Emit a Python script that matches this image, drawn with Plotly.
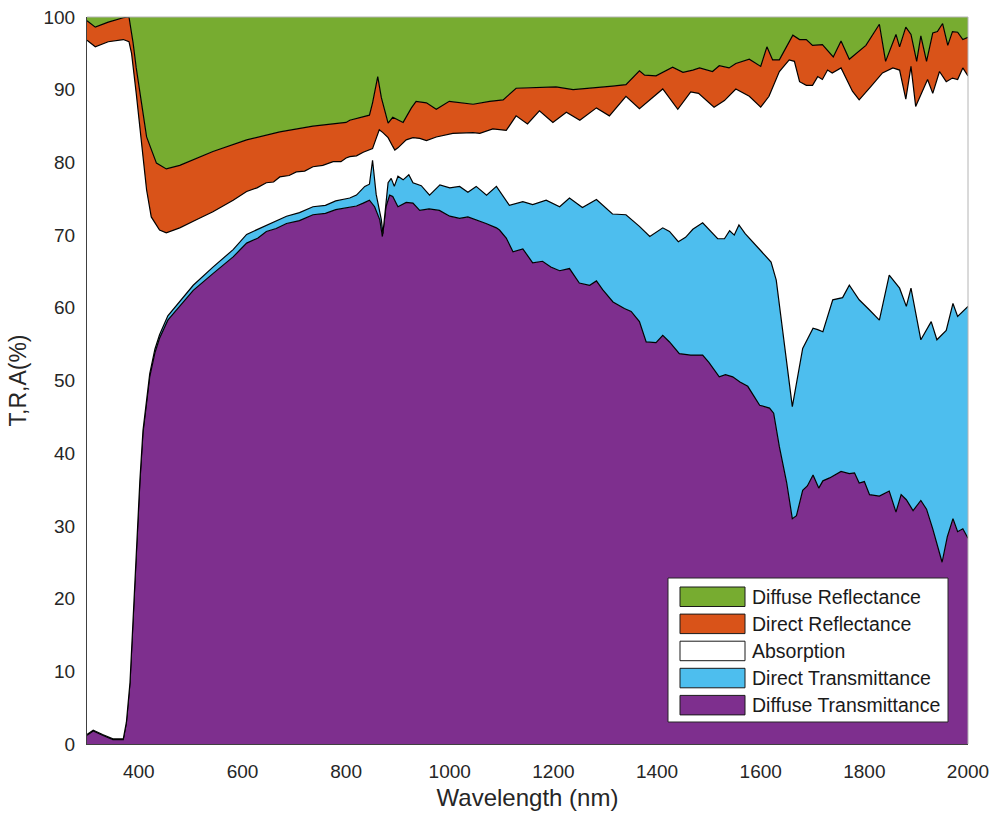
import plotly.graph_objects as go

# Upper edge of each stacked band (cumulative %, bottom to top), sampled in nm.

# Diffuse transmittance (top of purple band)
wl_t_diffuse = [300, 312, 330, 350, 370, 376, 383, 389, 395, 402, 408, 415, 421, 431, 440,
                456, 479, 505, 543, 582, 608, 630, 646, 665, 685, 710, 736, 760, 780, 800,
                820, 833, 845, 855, 865, 870, 877, 884, 890, 900, 916, 929, 942, 960, 980,
                1000, 1019, 1035, 1051, 1070, 1090, 1096, 1109, 1122, 1141, 1160, 1179, 1195,
                1212, 1231, 1250, 1270, 1283, 1295, 1315, 1337, 1350, 1366, 1379, 1398, 1411,
                1424, 1443, 1465, 1488, 1500, 1520, 1532, 1546, 1560, 1575, 1598, 1617, 1625,
                1636, 1650, 1661, 1669, 1681, 1690, 1701, 1712, 1720, 1733, 1755, 1771, 1781,
                1790, 1800, 1810, 1829, 1848, 1861, 1871, 1881, 1894, 1909, 1920, 1932, 1950,
                1960, 1971, 1980, 1990, 2000]
t_diffuse = [1.2, 1.8, 1.2, 0.6, 0.6, 2.9, 8.4, 17.5, 26.7, 35.9, 42.8, 47.3, 50.5, 53.8, 55.8,
             58.3, 60.2, 62.4, 64.7, 67.0, 68.9, 69.6, 70.5, 70.9, 71.6, 72.0, 72.8, 73.0, 73.5, 73.7,
             74.0, 74.4, 74.8, 73.9, 72.1, 69.8, 73.9, 75.5, 75.3, 73.9, 74.5, 74.4, 73.4, 73.6, 73.4,
             72.6, 72.3, 72.5, 72.1, 71.6, 71.0, 70.7, 69.6, 67.7, 68.1, 66.2, 66.4, 65.6,
             65.1, 65.4, 63.4, 63.1, 63.7, 62.5, 60.8, 59.9, 59.5, 58.1, 55.3, 55.2, 56.2,
             55.3, 53.7, 53.5, 53.5, 52.5, 50.5, 50.8, 50.5, 49.8, 49.2, 46.6, 46.2, 45.5,
             40.9, 36.0, 31.0, 31.4, 34.9, 35.5, 37.0, 35.2, 36.2, 36.6, 37.5, 37.2, 37.3,
             35.9, 36.1, 34.3, 34.1, 34.8, 31.9, 34.3, 33.6, 32.1, 33.5, 32.3, 29.6, 25.0,
             28.5, 31.0, 29.2, 29.6, 28.3]

# Diffuse + direct transmittance (top of blue band)
wl_t_total = [300, 312, 330, 350, 370, 376, 383, 389, 395, 402, 408, 415, 421, 431, 440,
              456, 479, 505, 543, 582, 608, 630, 646, 665, 685, 710, 736, 760, 780, 800,
              807, 820, 836, 845, 851, 858, 868, 871, 881, 887, 893, 900, 910, 921, 929,
              945, 961, 981, 1000, 1019, 1035, 1051, 1071, 1090, 1115, 1141, 1160, 1186,
              1212, 1231, 1256, 1283, 1314, 1340, 1366, 1386, 1411, 1424, 1441, 1455, 1469,
              1488, 1517, 1530, 1540, 1549, 1558, 1570, 1598, 1620, 1630, 1646, 1661, 1681,
              1701, 1710, 1720, 1739, 1758, 1771, 1790, 1810, 1829, 1848, 1868, 1881, 1890,
              1909, 1929, 1940, 1958, 1971, 1980, 2000]
t_total = [1.3, 1.9, 1.3, 0.7, 0.7, 3.0, 8.5, 17.7, 27.0, 36.2, 43.1, 47.7, 50.9, 54.3, 56.3,
           58.9, 60.9, 63.1, 65.6, 68.0, 70.1, 70.8, 71.4, 72.0, 72.6, 73.1, 73.9, 74.1, 74.7, 75.0,
           75.1, 75.5, 76.7, 77.0, 80.3, 75.6, 72.1, 70.2, 77.2, 77.8, 76.7, 78.1, 77.6, 78.3, 77.2,
           76.8, 75.5, 76.9, 76.5, 76.7, 75.9, 76.7, 75.5, 76.7, 74.1, 74.6, 74.2, 74.8,
           73.9, 75.1, 73.8, 74.9, 72.9, 72.8, 71.2, 69.8, 71.0, 70.5, 69.1, 69.7, 70.8,
           71.7, 69.5, 69.5, 70.6, 70.0, 71.4, 70.2, 68.0, 66.3, 63.8, 55.1, 46.4, 54.4,
           57.2, 57.0, 56.7, 61.1, 61.4, 63.1, 61.1, 59.7, 58.3, 64.5, 62.7, 60.2, 62.7,
           55.6, 58.1, 55.6, 56.9, 60.6, 58.8, 60.2]

# Transmittance + absorption (bottom of orange band)
wl_absorb = [300, 316, 341, 370, 381, 386, 395, 405, 415, 424, 440, 453, 479, 511, 543,
             582, 608, 628, 646, 660, 672, 690, 704, 720, 736, 755, 775, 790, 800, 807,
             820, 833, 845, 851, 858, 864, 871, 881, 890, 894, 900, 916, 929, 942, 955,
             974, 1006, 1045, 1058, 1083, 1109, 1128, 1150, 1173, 1199, 1225, 1251, 1283,
             1308, 1340, 1366, 1411, 1440, 1465, 1480, 1510, 1530, 1552, 1578, 1600, 1616,
             1636, 1655, 1665, 1675, 1688, 1700, 1710, 1719, 1729, 1738, 1755, 1777, 1790,
             1812, 1835, 1855, 1868, 1880, 1890, 1899, 1912, 1922, 1932, 1945, 1958, 1970,
             1980, 1990, 2000]
r_lower = [96.8, 95.9, 96.6, 96.9, 96.6, 95.0, 89.5, 82.7, 76.2, 72.5, 70.7, 70.3, 71.0, 72.1, 73.2,
           74.8, 76.0, 76.5, 77.2, 77.3, 78.0, 78.2, 78.7, 78.8, 79.4, 79.6, 80.1, 80.1, 80.6, 80.8,
           80.9, 81.4, 81.7, 81.9, 83.3, 84.5, 84.1, 83.4, 82.2, 81.7, 82.0, 83.1, 83.4, 83.3, 83.0,
           83.5, 84.0, 84.1, 84.0, 84.6, 84.4, 86.4, 85.3, 87.1, 85.5, 86.9, 85.8, 87.5,
           86.4, 89.1, 87.4, 90.1, 87.3, 89.7, 89.5, 87.6, 88.5, 90.1, 89.1, 87.6, 89.1,
           92.5, 94.1, 93.9, 91.1, 90.6, 90.6, 91.8, 91.4, 92.7, 92.3, 93.0, 89.8, 88.6,
           90.4, 92.3, 93.0, 92.7, 88.7, 93.2, 87.7, 89.8, 91.4, 89.5, 92.5, 91.1, 91.6,
           91.4, 93.0, 91.9]

# Everything except diffuse reflectance (bottom of green band)
wl_r_direct = [300, 316, 341, 370, 381, 389, 395, 402, 415, 434, 453, 479, 543, 608, 672,
               736, 800, 807, 845, 851, 861, 868, 881, 890, 900, 910, 926, 935, 955, 974,
               999, 1025, 1045, 1077, 1103, 1128, 1167, 1205, 1238, 1276, 1314, 1340, 1366,
               1376, 1398, 1430, 1450, 1469, 1482, 1507, 1520, 1539, 1552, 1578, 1600, 1612,
               1623, 1636, 1662, 1675, 1688, 1700, 1719, 1740, 1755, 1771, 1803, 1829, 1841,
               1861, 1868, 1880, 1890, 1901, 1909, 1920, 1932, 1941, 1951, 1961, 1970, 1980,
               1990, 2000]
r_upper = [99.5, 98.6, 99.3, 99.9, 100.0, 96.4, 93.0, 89.5, 83.5, 79.9, 79.1, 79.6, 81.5, 83.1, 84.2,
           85.0, 85.5, 85.8, 86.5, 88.2, 91.8, 88.9, 85.4, 86.2, 85.9, 85.5, 87.5, 88.4, 88.2, 87.3,
           88.4, 88.2, 88.0, 88.4, 88.6, 90.2, 90.3, 90.4, 90.0, 90.2, 90.5, 90.7, 92.6,
           92.0, 91.9, 93.1, 92.4, 92.7, 93.0, 92.5, 93.3, 93.0, 93.6, 94.2, 93.2, 95.9,
           94.1, 94.1, 97.5, 96.9, 96.9, 96.1, 96.2, 94.5, 96.7, 94.2, 96.1, 99.0, 93.9,
           97.6, 95.9, 98.6, 97.6, 93.9, 97.4, 93.9, 97.8, 98.0, 99.1, 96.1, 98.0, 97.9,
           96.9, 97.2]

# Total of all components
wl_full = [300, 2000]
full = [100, 100]

band_names = ["Diffuse Transmittance", "Direct Transmittance", "Absorption",
              "Direct Reflectance", "Diffuse Reflectance"]
band_colors = ["#7E2F8E", "#4DBEEE", "#FFFFFF", "#D95319", "#77AC30"]

FONT = "Liberation Sans, Arial, Helvetica, sans-serif"
TEXT = "#262626"

edges = [(wl_t_diffuse, t_diffuse), (wl_t_total, t_total), (wl_absorb, r_lower),
         (wl_r_direct, r_upper), (wl_full, full)]

fig = go.Figure()
for i, ((xs, ys), name, color) in enumerate(zip(edges, band_names, band_colors)):
    fig.add_trace(go.Scatter(
        x=xs, y=ys, name=name, mode="lines",
        fill="tozeroy" if i == 0 else "tonexty",
        fillcolor=color,
        line=dict(color="black", width=1.2 if i < 4 else 0),
        showlegend=False,
        hoverinfo="x+y+name",
    ))

fig.update_layout(
    width=994, height=814,
    margin=dict(l=87, r=26, t=17, b=70),
    paper_bgcolor="white", plot_bgcolor="white",
    font=dict(family=FONT, color=TEXT, size=19),
    xaxis=dict(range=[300, 2000], tickvals=list(range(400, 2001, 200)),
               showgrid=False, zeroline=False, showline=True, linecolor="#404040",
               linewidth=1, ticks="", ticklabelstandoff=10, automargin=False,
               tickfont=dict(size=19, color=TEXT),
               title=dict(text="Wavelength (nm)", font=dict(size=24, color=TEXT), standoff=8)),
    yaxis=dict(range=[0, 100], tickvals=list(range(0, 101, 10)),
               showgrid=False, zeroline=False, showline=True, linecolor="#404040",
               linewidth=1, ticks="", ticklabelstandoff=7, automargin=False,
               tickfont=dict(size=19, color=TEXT),
               title=dict(text="T,R,A(%)", font=dict(size=23, color=TEXT), standoff=10)),
)

# Light frame on the top and right sides
fig.add_shape(type="line", xref="paper", yref="paper", x0=0, x1=1, y0=1, y1=1,
              line=dict(color="#b4b4b4", width=1))
fig.add_shape(type="line", xref="paper", yref="paper", x0=1, x1=1, y0=0, y1=1,
              line=dict(color="#b4b4b4", width=1))

# Legend box drawn in paper coordinates, listing the bands from top to bottom
PW, PH = 881.0, 727.0
def px(x):
    return (x - 87) / PW
def py(y):
    return (744 - y) / PH

fig.add_shape(type="rect", xref="paper", yref="paper",
              x0=px(668), x1=px(948), y0=py(722), y1=py(578),
              fillcolor="white", line=dict(color="#262626", width=1))
row_top = 587.0
pitch = 27.1
for k, idx in enumerate(range(4, -1, -1)):
    top = row_top + k * pitch
    fig.add_shape(type="rect", xref="paper", yref="paper",
                  x0=px(680), x1=px(745), y0=py(top + 19.5), y1=py(top),
                  fillcolor=band_colors[idx], line=dict(color="#1a1a1a", width=1))
    fig.add_annotation(xref="paper", yref="paper", x=px(750), y=py(top + 10),
                       text=band_names[idx], showarrow=False, xanchor="left", yanchor="middle",
                       font=dict(family=FONT, size=19.5, color="#1a1a1a"))

fig.write_html("out.html")
